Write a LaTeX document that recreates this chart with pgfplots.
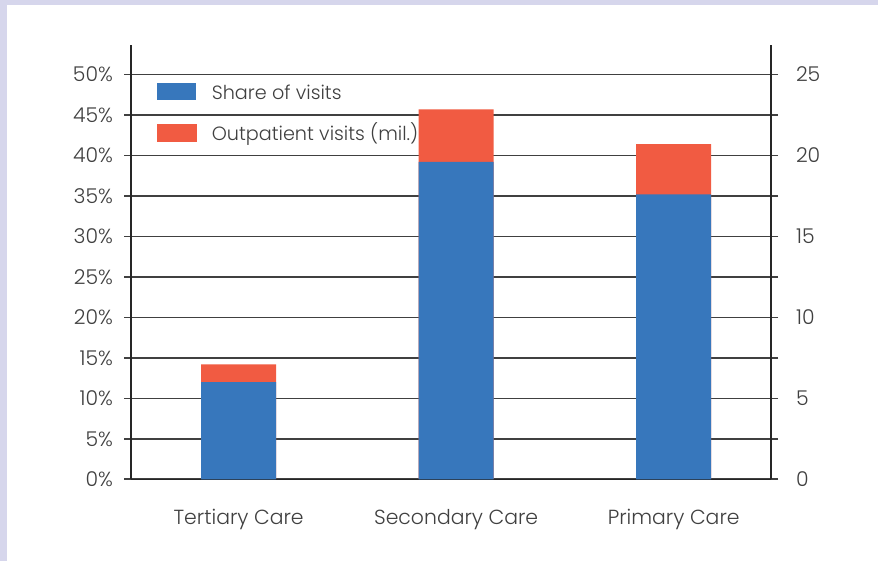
\documentclass[border=0pt]{standalone}
\usepackage{fontspec}
\setmainfont{Poppins Light}
\usepackage{pgfplots}
\pgfplotsset{compat=1.18}
\definecolor{shareblue}{HTML}{3777BC}
\definecolor{visitred}{HTML}{F15B42}
\definecolor{framelav}{HTML}{D6D6EC}
\definecolor{labelgray}{HTML}{404040}
\definecolor{gridgray}{HTML}{404040}

\begin{document}
\begin{tikzpicture}[x=0.5pt,y=0.5pt]
\path[use as bounding box] (0,0) rectangle (878,561);
\fill[framelav] (0,0) rectangle (878,561);
\fill[white] (7,0) rectangle (878,556);

\pgfplotsset{
  base/.style={
    at={(65.5pt,40.85pt)}, anchor=south west, scale only axis,
    width=320pt, height=217.15pt,
    xmin=-0.495, xmax=2.4475, ymin=0,
    ybar, bar width=37.5pt, bar shift=0pt,
    tick align=outside, major tick length=3.5pt,
    every tick/.style={gridgray, line width=0.8pt},
    axis line style={draw=black!85, line width=0.6pt},
    tick label style={font=\fontsize{10.2}{12}\selectfont, text=labelgray},
    /pgf/number format/assume math mode=true,
  }
}

% right axis: outpatient visits in millions, drawn first so the share bars sit in front
\begin{axis}[base, ymax=26.82,
  axis y line*=right, hide x axis,
  ytick={0,2.5,...,25},
  yticklabels={0,,5,,10,,15,,20,,25},
  ymajorgrids, grid style={gridgray, line width=0.8pt},
  yticklabel style={xshift=5.5pt}]
\addplot[fill=visitred, draw=none] coordinates {(0,7.1) (1,22.85) (2,20.7)};
\end{axis}

% left axis: share of visits in percent
\begin{axis}[base, ymax=53.64,
  axis y line*=left, axis x line*=bottom,
  ytick={0,5,...,50},
  yticklabels={0\%,5\%,10\%,15\%,20\%,25\%,30\%,35\%,40\%,45\%,50\%},
  yticklabel style={xshift=-2pt},
  xtick={0,1,2},
  xticklabels={Tertiary Care,Secondary Care,Primary Care},
  xticklabel style={yshift=-8pt},
  x tick style={draw=none},
  legend cell align=left,
  legend style={at={(0.0406,0.9148)}, anchor=north west, draw=none, fill=none,
    inner sep=0pt, outer sep=0pt, column sep=0pt, row sep=8.5pt,
    nodes={inner sep=0pt, text height=9pt, text depth=3pt, anchor=base west,
      font=\fontsize{9.6}{12}\selectfont, text=labelgray}}]
\addplot[fill=shareblue, draw=none,
  legend image code/.code={\fill[shareblue] (0pt,-0.25pt) rectangle (19.5pt,8.25pt); \path (27pt,0pt);}]
  coordinates {(0,12.0) (1,39.2) (2,35.2)};
\addlegendentry{Share of visits}
\addlegendimage{legend image code/.code={\fill[visitred] (0pt,-0.25pt) rectangle (19.5pt,8.25pt); \path (27pt,0pt);}}
\addlegendentry{Outpatient visits (mil.)}
\end{axis}
\end{tikzpicture}
\end{document}
